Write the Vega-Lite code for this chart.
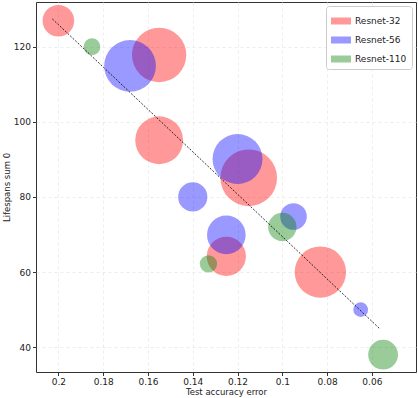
{
  "$schema": "https://vega.github.io/schema/vega-lite/v6.json",
  "autosize": "none",
  "width": 380,
  "height": 370,
  "padding": {"left": 36, "top": 2, "right": 2, "bottom": 26},
  "background": "white",
  "config": {
    "font": "DejaVu Sans",
    "view": {"stroke": "#333", "strokeWidth": 1},
    "axis": {
      "domain": false,
      "grid": true,
      "gridDash": [3, 3],
      "gridColor": "#e8e8e8",
      "gridWidth": 0.8,
      "tickColor": "#333",
      "tickSize": 3.5,
      "labelFontSize": 9,
      "labelColor": "#222",
      "titleFontSize": 8.5,
      "titleFontWeight": "normal",
      "titleColor": "#222"
    },
    "legend": {
      "orient": "top-right",
      "offset": 4,
      "strokeColor": "#cccccc",
      "cornerRadius": 3,
      "padding": 5,
      "fillColor": "white",
      "labelFontSize": 9,
      "labelColor": "#222",
      "rowPadding": 4,
      "symbolType": "M-1,-0.35H1V0.35H-1Z",
      "symbolSize": 400,
      "symbolOpacity": 0.4,
      "symbolStrokeWidth": 0
    }
  },
  "datasets": {
    "points": [
      {"net": "Resnet-32", "err": 0.2, "life": 126.9, "size": 317},
      {"net": "Resnet-32", "err": 0.155, "life": 117.8, "size": 940},
      {"net": "Resnet-32", "err": 0.155, "life": 95.1, "size": 729},
      {"net": "Resnet-32", "err": 0.115, "life": 85.1, "size": 1024},
      {"net": "Resnet-32", "err": 0.125, "life": 64.2, "size": 490},
      {"net": "Resnet-32", "err": 0.083, "life": 60, "size": 841},
      {"net": "Resnet-56", "err": 0.168, "life": 114.9, "size": 853},
      {"net": "Resnet-56", "err": 0.12, "life": 90.1, "size": 795},
      {"net": "Resnet-56", "err": 0.14, "life": 80, "size": 272},
      {"net": "Resnet-56", "err": 0.095, "life": 74.8, "size": 225},
      {"net": "Resnet-56", "err": 0.125, "life": 69.9, "size": 475},
      {"net": "Resnet-56", "err": 0.065, "life": 50, "size": 69},
      {"net": "Resnet-110", "err": 0.185, "life": 120, "size": 90},
      {"net": "Resnet-110", "err": 0.1, "life": 72, "size": 256},
      {"net": "Resnet-110", "err": 0.133, "life": 62.2, "size": 96},
      {"net": "Resnet-110", "err": 0.055, "life": 38, "size": 282}
    ],
    "trend": [
      {"err": 0.2027, "life": 127.4},
      {"err": 0.0563, "life": 44.8}
    ]
  },
  "layer": [
    {
      "data": {"name": "points"},
      "mark": {"type": "circle", "opacity": 0.4, "strokeWidth": 0},
      "encoding": {
        "x": {
          "field": "err",
          "type": "quantitative",
          "title": "Test accuracy error",
          "scale": {"domain": [0.21, 0.0403], "nice": false, "zero": false},
          "axis": {"values": [0.2, 0.18, 0.16, 0.14, 0.12, 0.1, 0.08, 0.06], "format": "~g", "titlePadding": 1}
        },
        "y": {
          "field": "life",
          "type": "quantitative",
          "title": "Lifespans sum 0",
          "scale": {"domain": [33.4, 131.9], "nice": false, "zero": false},
          "axis": {"values": [40, 60, 80, 100, 120], "titlePadding": 2}
        },
        "color": {
          "field": "net",
          "type": "nominal",
          "title": null,
          "scale": {"domain": ["Resnet-32", "Resnet-56", "Resnet-110"], "range": ["#ff0000", "#0000ff", "#008000"]}
        },
        "size": {
          "field": "size",
          "type": "quantitative",
          "scale": {"domain": [0, 1000], "range": [0, 3141.6], "zero": true},
          "legend": null
        }
      }
    },
    {
      "data": {"name": "trend"},
      "mark": {"type": "line", "color": "black", "strokeWidth": 0.8, "strokeDash": [2, 1.5]},
      "encoding": {
        "x": {"field": "err", "type": "quantitative"},
        "y": {"field": "life", "type": "quantitative"}
      }
    }
  ]
}
